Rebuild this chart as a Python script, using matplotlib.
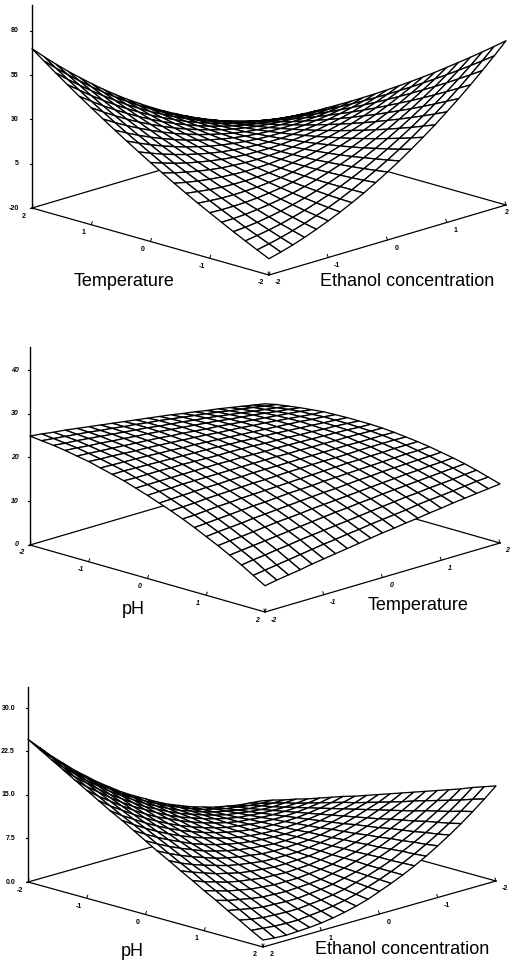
import numpy as np
import matplotlib
matplotlib.use("Agg")
import matplotlib.pyplot as plt
from matplotlib.collections import PolyCollection

plt.rcParams['font.family'] = ['Liberation Sans', 'DejaVu Sans']

# Coded factor levels, one mesh line every 0.2 (the scanned mesh is finer than this)
levels = [-2.0, -1.8, -1.6, -1.4, -1.2, -1.0, -0.8, -0.6, -0.4, -0.2, 0.0,
          0.2, 0.4, 0.6, 0.8, 1.0, 1.2, 1.4, 1.6, 1.8, 2.0]

# Heights. Rows: first factor -2..2, columns: second factor -2..2
# Top: rows Temperature, columns Ethanol concentration
temp_ethanol = [
    [-10.8, -9.0, -7.0, -4.7, -2.1, 0.7, 3.7, 7.0, 10.5, 14.4, 18.4, 22.7, 27.3, 32.1, 37.1, 42.5, 48.0, 53.8, 59.9, 66.2, 72.8],
    [-7.7, -6.3, -4.7, -2.8, -0.7, 1.7, 4.3, 7.2, 10.4, 13.8, 17.4, 21.3, 25.4, 29.8, 34.5, 39.4, 44.6, 50.0, 55.6, 61.5, 67.7],
    [-4.5, -3.5, -2.3, -0.9, 0.9, 2.8, 5.1, 7.5, 10.3, 13.3, 16.5, 20.0, 23.7, 27.7, 31.9, 36.4, 41.2, 46.2, 51.4, 56.9, 62.7],
    [-1.2, -0.7, 0.1, 1.2, 2.5, 4.1, 5.9, 8.0, 10.3, 12.9, 15.7, 18.8, 22.1, 25.7, 29.5, 33.6, 37.9, 42.5, 47.3, 52.4, 57.8],
    [2.2, 2.3, 2.7, 3.4, 4.3, 5.4, 6.8, 8.5, 10.4, 12.6, 15.0, 17.6, 20.5, 23.7, 27.1, 30.8, 34.7, 38.9, 43.3, 48.0, 53.0],
    [5.7, 5.4, 5.4, 5.6, 6.1, 6.9, 7.9, 9.1, 10.6, 12.4, 14.4, 16.6, 19.1, 21.9, 24.9, 28.2, 31.7, 35.4, 39.5, 43.7, 48.3],
    [9.2, 8.6, 8.1, 8.0, 8.1, 8.4, 9.0, 9.8, 10.9, 12.3, 13.8, 15.7, 17.8, 20.1, 22.7, 25.6, 28.7, 32.1, 35.7, 39.5, 43.6],
    [12.9, 11.9, 11.0, 10.4, 10.1, 10.0, 10.2, 10.6, 11.3, 12.3, 13.4, 14.9, 16.6, 18.5, 20.7, 23.1, 25.8, 28.8, 32.0, 35.4, 39.1],
    [16.7, 15.2, 14.0, 13.0, 12.3, 11.8, 11.5, 11.6, 11.8, 12.4, 13.1, 14.2, 15.4, 17.0, 18.7, 20.8, 23.1, 25.6, 28.4, 31.4, 34.7],
    [20.6, 18.7, 17.1, 15.7, 14.5, 13.6, 13.0, 12.6, 12.4, 12.6, 12.9, 13.5, 14.4, 15.5, 16.9, 18.5, 20.4, 22.5, 24.9, 27.5, 30.4],
    [24.6, 22.3, 20.2, 18.4, 16.9, 15.6, 14.5, 13.7, 13.1, 12.9, 12.8, 13.0, 13.5, 14.2, 15.1, 16.4, 17.8, 19.5, 21.5, 23.7, 26.2],
    [28.7, 26.0, 23.5, 21.3, 19.3, 17.6, 16.1, 14.9, 14.0, 13.3, 12.8, 12.6, 12.6, 12.9, 13.5, 14.3, 15.4, 16.7, 18.2, 20.0, 22.1],
    [32.9, 29.8, 26.9, 24.2, 21.9, 19.7, 17.9, 16.2, 14.9, 13.8, 12.9, 12.3, 11.9, 11.8, 11.9, 12.3, 13.0, 13.9, 15.0, 16.4, 18.1],
    [37.2, 33.6, 30.3, 27.3, 24.5, 22.0, 19.7, 17.7, 15.9, 14.4, 13.1, 12.1, 11.3, 10.8, 10.5, 10.5, 10.7, 11.2, 11.9, 12.9, 14.2],
    [41.6, 37.6, 33.9, 30.5, 27.3, 24.3, 21.6, 19.2, 17.0, 15.1, 13.4, 11.9, 10.7, 9.8, 9.1, 8.7, 8.5, 8.6, 8.9, 9.5, 10.4],
    [46.1, 41.7, 37.6, 33.7, 30.1, 26.8, 23.7, 20.8, 18.2, 15.9, 13.8, 11.9, 10.3, 9.0, 7.9, 7.1, 6.5, 6.1, 6.1, 6.2, 6.7],
    [50.6, 45.9, 41.3, 37.1, 33.1, 29.3, 25.8, 22.5, 19.5, 16.8, 14.2, 12.0, 10.0, 8.2, 6.7, 5.5, 4.5, 3.8, 3.3, 3.0, 3.0],
    [55.3, 50.2, 45.2, 40.5, 36.1, 31.9, 28.0, 24.3, 20.9, 17.8, 14.8, 12.2, 9.8, 7.6, 5.7, 4.0, 2.6, 1.5, 0.6, -0.1, -0.5],
    [60.1, 54.5, 49.2, 44.1, 39.3, 34.7, 30.3, 26.3, 22.4, 18.9, 15.5, 12.5, 9.6, 7.1, 4.7, 2.7, 0.9, -0.7, -2.0, -3.1, -3.9],
    [65.0, 59.0, 53.3, 47.8, 42.5, 37.5, 32.8, 28.3, 24.0, 20.1, 16.3, 12.8, 9.6, 6.6, 3.9, 1.4, -0.8, -2.8, -4.5, -6.0, -7.2],
    [70.0, 63.6, 57.4, 51.5, 45.9, 40.5, 35.3, 30.4, 25.7, 21.4, 17.2, 13.3, 9.7, 6.3, 3.1, 0.3, -2.4, -4.8, -6.9, -8.8, -10.4],
]

# Middle: rows pH, columns Temperature
ph_temp = [
    [24.9, 24.6, 24.2, 23.9, 23.5, 23.1, 22.7, 22.3, 21.9, 21.5, 21.1, 20.7, 20.3, 19.8, 19.4, 18.9, 18.5, 18.0, 17.5, 17.0, 16.5],
    [24.6, 24.3, 24.0, 23.7, 23.4, 23.0, 22.7, 22.3, 22.0, 21.6, 21.3, 20.9, 20.5, 20.1, 19.7, 19.3, 18.8, 18.4, 18.0, 17.5, 17.1],
    [24.3, 24.0, 23.8, 23.5, 23.2, 22.9, 22.6, 22.3, 22.0, 21.6, 21.3, 21.0, 20.6, 20.3, 19.9, 19.5, 19.1, 18.7, 18.3, 17.9, 17.5],
    [23.9, 23.7, 23.4, 23.2, 22.9, 22.7, 22.4, 22.2, 21.9, 21.6, 21.3, 21.0, 20.7, 20.4, 20.0, 19.7, 19.4, 19.0, 18.6, 18.3, 17.9],
    [23.4, 23.2, 23.0, 22.8, 22.6, 22.4, 22.2, 22.0, 21.7, 21.5, 21.2, 20.9, 20.7, 20.4, 20.1, 19.8, 19.5, 19.2, 18.9, 18.6, 18.2],
    [22.9, 22.7, 22.6, 22.4, 22.2, 22.1, 21.9, 21.7, 21.5, 21.3, 21.1, 20.8, 20.6, 20.4, 20.1, 19.9, 19.6, 19.3, 19.0, 18.7, 18.5],
    [22.2, 22.1, 22.0, 21.9, 21.8, 21.6, 21.5, 21.3, 21.2, 21.0, 20.8, 20.6, 20.4, 20.2, 20.0, 19.8, 19.6, 19.4, 19.1, 18.9, 18.6],
    [21.5, 21.5, 21.4, 21.3, 21.2, 21.1, 21.0, 20.9, 20.8, 20.7, 20.5, 20.4, 20.2, 20.1, 19.9, 19.7, 19.5, 19.3, 19.1, 18.9, 18.7],
    [20.8, 20.7, 20.7, 20.7, 20.6, 20.6, 20.5, 20.4, 20.3, 20.3, 20.2, 20.1, 19.9, 19.8, 19.7, 19.5, 19.4, 19.2, 19.1, 18.9, 18.7],
    [19.9, 19.9, 19.9, 19.9, 19.9, 19.9, 19.9, 19.9, 19.8, 19.8, 19.7, 19.6, 19.6, 19.5, 19.4, 19.3, 19.2, 19.1, 19.0, 18.8, 18.7],
    [19.0, 19.1, 19.1, 19.2, 19.2, 19.2, 19.2, 19.2, 19.2, 19.2, 19.2, 19.2, 19.1, 19.1, 19.0, 19.0, 18.9, 18.9, 18.8, 18.7, 18.6],
    [18.0, 18.1, 18.2, 18.3, 18.4, 18.4, 18.5, 18.5, 18.6, 18.6, 18.6, 18.6, 18.6, 18.6, 18.6, 18.6, 18.6, 18.5, 18.5, 18.5, 18.4],
    [17.0, 17.1, 17.2, 17.4, 17.5, 17.6, 17.7, 17.8, 17.8, 17.9, 18.0, 18.0, 18.1, 18.1, 18.1, 18.1, 18.2, 18.2, 18.2, 18.2, 18.1],
    [15.9, 16.0, 16.2, 16.4, 16.5, 16.7, 16.8, 16.9, 17.0, 17.1, 17.2, 17.3, 17.4, 17.5, 17.6, 17.6, 17.7, 17.7, 17.8, 17.8, 17.8],
    [14.7, 14.9, 15.1, 15.3, 15.5, 15.7, 15.8, 16.0, 16.2, 16.3, 16.4, 16.6, 16.7, 16.8, 16.9, 17.0, 17.1, 17.2, 17.3, 17.3, 17.4],
    [13.4, 13.7, 13.9, 14.1, 14.4, 14.6, 14.8, 15.0, 15.2, 15.4, 15.6, 15.7, 15.9, 16.1, 16.2, 16.4, 16.5, 16.6, 16.7, 16.8, 16.9],
    [12.1, 12.4, 12.6, 12.9, 13.2, 13.5, 13.7, 13.9, 14.2, 14.4, 14.6, 14.8, 15.0, 15.2, 15.4, 15.6, 15.8, 15.9, 16.1, 16.2, 16.4],
    [10.7, 11.0, 11.3, 11.6, 11.9, 12.2, 12.5, 12.8, 13.1, 13.4, 13.6, 13.9, 14.1, 14.4, 14.6, 14.8, 15.0, 15.2, 15.4, 15.6, 15.8],
    [9.2, 9.6, 9.9, 10.3, 10.6, 11.0, 11.3, 11.6, 11.9, 12.2, 12.5, 12.8, 13.1, 13.4, 13.7, 13.9, 14.2, 14.4, 14.6, 14.9, 15.1],
    [7.6, 8.0, 8.4, 8.8, 9.2, 9.6, 10.0, 10.3, 10.7, 11.0, 11.4, 11.7, 12.0, 12.3, 12.7, 13.0, 13.2, 13.5, 13.8, 14.1, 14.3],
    [6.0, 6.5, 6.9, 7.3, 7.8, 8.2, 8.6, 9.0, 9.4, 9.8, 10.2, 10.5, 10.9, 11.2, 11.6, 11.9, 12.3, 12.6, 12.9, 13.2, 13.5],
]

# Bottom: rows pH, columns Ethanol concentration
ph_ethanol = [
    [2.6, 2.8, 3.0, 3.4, 3.8, 4.4, 5.0, 5.8, 6.6, 7.6, 8.7, 9.8, 11.0, 12.4, 13.8, 15.4, 17.0, 18.8, 20.6, 22.6, 24.6],
    [3.3, 3.3, 3.5, 3.8, 4.1, 4.6, 5.1, 5.8, 6.6, 7.4, 8.4, 9.4, 10.6, 11.8, 13.2, 14.6, 16.2, 17.8, 19.6, 21.5, 23.4],
    [3.9, 3.9, 4.0, 4.1, 4.4, 4.8, 5.2, 5.8, 6.5, 7.2, 8.1, 9.1, 10.1, 11.3, 12.6, 13.9, 15.4, 16.9, 18.6, 20.3, 22.2],
    [4.6, 4.5, 4.4, 4.5, 4.7, 5.0, 5.3, 5.8, 6.4, 7.1, 7.8, 8.7, 9.7, 10.7, 11.9, 13.2, 14.5, 16.0, 17.6, 19.2, 21.0],
    [5.2, 5.0, 4.9, 4.9, 5.0, 5.2, 5.4, 5.8, 6.3, 6.9, 7.6, 8.3, 9.2, 10.2, 11.3, 12.4, 13.7, 15.1, 16.6, 18.1, 19.8],
    [5.9, 5.6, 5.4, 5.3, 5.3, 5.4, 5.6, 5.8, 6.2, 6.7, 7.3, 8.0, 8.8, 9.7, 10.6, 11.7, 12.9, 14.2, 15.6, 17.0, 18.6],
    [6.6, 6.2, 5.9, 5.7, 5.6, 5.6, 5.7, 5.9, 6.2, 6.5, 7.0, 7.6, 8.3, 9.1, 10.0, 11.0, 12.1, 13.3, 14.6, 15.9, 17.4],
    [7.3, 6.8, 6.4, 6.1, 5.9, 5.8, 5.8, 5.9, 6.1, 6.4, 6.8, 7.3, 7.9, 8.6, 9.4, 10.3, 11.3, 12.4, 13.6, 14.8, 16.2],
    [7.9, 7.4, 6.9, 6.5, 6.2, 6.0, 5.9, 5.9, 6.0, 6.2, 6.5, 6.9, 7.5, 8.1, 8.8, 9.6, 10.5, 11.5, 12.6, 13.8, 15.1],
    [8.6, 7.9, 7.4, 6.9, 6.5, 6.2, 6.0, 5.9, 6.0, 6.1, 6.3, 6.6, 7.0, 7.5, 8.1, 8.8, 9.7, 10.6, 11.6, 12.7, 13.9],
    [9.3, 8.5, 7.9, 7.3, 6.8, 6.4, 6.2, 6.0, 5.9, 5.9, 6.1, 6.3, 6.6, 7.0, 7.5, 8.1, 8.9, 9.7, 10.6, 11.6, 12.7],
    [10.0, 9.1, 8.4, 7.7, 7.1, 6.7, 6.3, 6.0, 5.9, 5.8, 5.8, 5.9, 6.2, 6.5, 6.9, 7.4, 8.1, 8.8, 9.6, 10.5, 11.5],
    [10.7, 9.7, 8.9, 8.1, 7.5, 6.9, 6.4, 6.1, 5.8, 5.6, 5.6, 5.6, 5.7, 6.0, 6.3, 6.7, 7.3, 7.9, 8.6, 9.4, 10.4],
    [11.4, 10.3, 9.4, 8.5, 7.8, 7.1, 6.6, 6.1, 5.8, 5.5, 5.4, 5.3, 5.3, 5.5, 5.7, 6.0, 6.5, 7.0, 7.7, 8.4, 9.2],
    [12.1, 11.0, 9.9, 9.0, 8.1, 7.4, 6.7, 6.2, 5.7, 5.4, 5.1, 5.0, 4.9, 5.0, 5.1, 5.4, 5.7, 6.1, 6.7, 7.3, 8.1],
    [12.8, 11.6, 10.4, 9.4, 8.5, 7.6, 6.9, 6.2, 5.7, 5.2, 4.9, 4.7, 4.5, 4.5, 4.5, 4.7, 4.9, 5.3, 5.7, 6.3, 6.9],
    [13.5, 12.2, 11.0, 9.8, 8.8, 7.9, 7.0, 6.3, 5.7, 5.1, 4.7, 4.3, 4.1, 4.0, 3.9, 4.0, 4.1, 4.4, 4.8, 5.2, 5.8],
    [14.2, 12.8, 11.5, 10.3, 9.1, 8.1, 7.2, 6.4, 5.6, 5.0, 4.5, 4.0, 3.7, 3.5, 3.3, 3.3, 3.4, 3.5, 3.8, 4.2, 4.6],
    [15.0, 13.4, 12.0, 10.7, 9.5, 8.4, 7.4, 6.4, 5.6, 4.9, 4.3, 3.7, 3.3, 3.0, 2.8, 2.6, 2.6, 2.7, 2.8, 3.1, 3.5],
    [15.7, 14.1, 12.6, 11.1, 9.8, 8.6, 7.5, 6.5, 5.6, 4.8, 4.1, 3.4, 2.9, 2.5, 2.2, 2.0, 1.8, 1.8, 1.9, 2.1, 2.3],
    [16.4, 14.7, 13.1, 11.6, 10.2, 8.9, 7.7, 6.6, 5.6, 4.7, 3.9, 3.1, 2.5, 2.0, 1.6, 1.3, 1.1, 1.0, 0.9, 1.0, 1.2],
]

z_ticks_top = [-20, 5, 30, 55, 80]
z_ticks_mid = [0, 10, 20, 30, 40]
z_ticks_bot = [0, 7.5, 15, 22.5, 30]
z_labels_top = ['-20', '5', '30', '55', '80']
z_labels_mid = ['0', '10', '20', '30', '40']
z_labels_bot = ['0.0', '7.5', '15.0', '22.5', '30.0']
factor_ticks = [-2, -1, 0, 1, 2]


def draw_panel(ax, table, a_ends, b_ends, left, front, right, z_per_unit, z_range, z_ticks, z_labels,
               z_label_x, label_a, label_b, italic=False):
    table = np.array(table)
    left, front, right = np.array(left, float), np.array(front, float), np.array(right, float)
    back = left + right - front
    style = 'italic' if italic else 'normal'

    # floor position of a pair of factor levels, then lift by the height
    def project(a, b, z):
        u = (a - a_ends[0]) / (a_ends[1] - a_ends[0])
        v = (b - b_ends[0]) / (b_ends[1] - b_ends[0])
        px = left[0] + u * (front[0] - left[0]) + v * (right[0] - front[0])
        py = left[1] + u * (front[1] - left[1]) + v * (right[1] - front[1])
        return px, py - z_per_unit * (z - z_range[0])

    # floor and height axis
    for p, q in [(left, front), (front, right), (left, back), (back, right)]:
        ax.plot([p[0], q[0]], [p[1], q[1]], color='black', lw=0.9)
    ax.plot([left[0], left[0]], [left[1], left[1] - z_per_unit * (z_range[1] - z_range[0])],
            color='black', lw=1.0)

    for t, lab in zip(z_ticks, z_labels):
        y = left[1] - z_per_unit * (t - z_range[0])
        ax.plot([left[0] - 2, left[0]], [y, y], color='black', lw=0.8)
        ax.text(z_label_x, y, lab, ha='right', va='center', fontsize=5, fontweight='bold', style=style)

    for t in factor_ticks:
        px, py = project(float(t), b_ends[0], z_range[0])
        ax.plot([px, px + 1], [py, py - 3], color='black', lw=0.7)
        ax.text(px - 8, py + 8, str(t), ha='center', va='center', fontsize=5, fontweight='bold', style=style)
        px, py = project(a_ends[1], float(t), z_range[0])
        ax.plot([px, px - 1], [py, py - 3], color='black', lw=0.7)
        ax.text(min(px + 9, 507), py + 8, str(t), ha='center', va='center', fontsize=5,
                fontweight='bold', style=style)

    # surface cells, far ones first so nearer ones cover them
    grid = np.array(levels)
    cells, depth = [], []
    for i in range(len(grid) - 1):
        for j in range(len(grid) - 1):
            corners = [(i, j), (i + 1, j), (i + 1, j + 1), (i, j + 1)]
            cells.append([project(grid[m], grid[n], table[m, n]) for m, n in corners])
            u = (grid[i] - a_ends[0]) / (a_ends[1] - a_ends[0])
            v = (grid[j] - b_ends[0]) / (b_ends[1] - b_ends[0])
            depth.append(u - v)
    order = np.argsort(depth)
    mesh = PolyCollection([cells[k] for k in order], facecolors='white', edgecolors='black',
                          linewidths=0.95, zorder=3)
    ax.add_collection(mesh)

    ax.text(label_a[1], label_a[2], label_a[0], ha='center', va='center', fontsize=label_a[3])
    ax.text(label_b[1], label_b[2], label_b[0], ha='center', va='center', fontsize=label_b[3])


fig = plt.figure(figsize=(5.12, 9.63), dpi=100)
ax = fig.add_axes([0, 0, 1, 1])
ax.set_xlim(0, 512)
ax.set_ylim(963, 0)
ax.axis('off')

draw_panel(ax, temp_ethanol, (2, -2), (-2, 2), (32, 208), (269, 275), (506, 205), 1.77, (-20, 94.5),
           z_ticks_top, z_labels_top, 19,
           ('Temperature', 124, 282, 13), ('Ethanol concentration', 407, 281, 13))
draw_panel(ax, ph_temp, (-2, 2), (-2, 2), (30, 545), (265, 612), (500, 543), 4.375, (0, 45.3),
           z_ticks_mid, z_labels_mid, 19,
           ('pH', 133, 609, 13), ('Temperature', 418, 606, 13), italic=True)
draw_panel(ax, ph_ethanol, (-2, 2), (2, -2), (28, 882), (263, 947), (496, 881), 5.8, (0, 33.6),
           z_ticks_bot, z_labels_bot, 15,
           ('pH', 132, 951, 13), ('Ethanol concentration', 402, 950, 13))

fig.savefig('out.png', dpi=100, facecolor='white')
